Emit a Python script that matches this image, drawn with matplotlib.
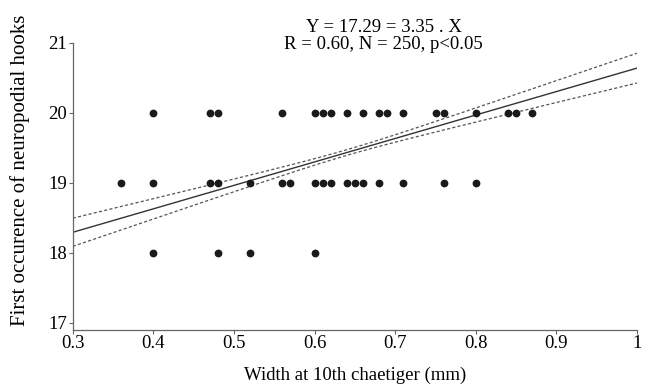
import numpy as np
import matplotlib.pyplot as plt

plt.rcParams['font.family'] = ['Liberation Serif', 'DejaVu Serif']

# observations (width at 10th chaetiger, first hook chaetiger)
x_20 = [0.40, 0.47, 0.48, 0.56, 0.60, 0.61, 0.62, 0.64, 0.66, 0.68, 0.69,
        0.71, 0.75, 0.76, 0.80, 0.84, 0.85, 0.87]
x_19 = [0.36, 0.40, 0.47, 0.48, 0.52, 0.56, 0.57, 0.60, 0.61, 0.62, 0.64,
        0.65, 0.66, 0.68, 0.71, 0.76, 0.80]
x_18 = [0.40, 0.48, 0.52, 0.60]

# regression Y = a + b X and confidence band parameters
intercept = 17.29
slope = 3.35
band_h0 = 0.04
band_k = 0.58
band_xm = 0.64

fig = plt.figure(figsize=(6.5, 3.9), dpi=100)
ax = fig.add_axes([0.112, 0.154, 0.868, 0.736])

xs = np.array(x_20 + x_19 + x_18)
ys = np.array([20] * len(x_20) + [19] * len(x_19) + [18] * len(x_18))
ax.plot(xs, ys, 'o', color='#1a1a1a', markersize=4.6, zorder=3)

xl = np.linspace(0.3, 1.0, 200)
yl = intercept + slope * xl
half = np.sqrt(band_h0 ** 2 + (band_k * (xl - band_xm)) ** 2)
ax.plot(xl, yl, color='#333333', lw=1.0)
ax.plot(xl, yl + half, color='#555555', lw=0.9, ls=(0, (2.5, 1.8)))
ax.plot(xl, yl - half, color='#555555', lw=0.9, ls=(0, (2.5, 1.8)))

ax.set_xlim(0.3, 1.0)
ax.set_ylim(16.9, 21)
ax.set_xticks([0.3, 0.4, 0.5, 0.6, 0.7, 0.8, 0.9, 1.0])
ax.set_xticklabels(['0.3', '0.4', '0.5', '0.6', '0.7', '0.8', '0.9', '1'])
ax.set_yticks([17, 18, 19, 20, 21])
for s in ['top', 'right']:
    ax.spines[s].set_visible(False)
for s in ['left', 'bottom']:
    ax.spines[s].set_color('#666666')
    ax.spines[s].set_linewidth(0.9)
ax.tick_params(direction='out', length=3, width=0.8, color='#666666',
               labelsize=13.5, pad=1)

ax.set_xlabel('Width at 10th chaetiger (mm)', fontsize=13.5, labelpad=10)
ax.set_ylabel('First occurence of neuropodial hooks', fontsize=15)
ax.yaxis.set_label_coords(-0.075, 0.555)

fig.text(0.59, 0.93, 'Y = 17.29 = 3.35 . X', ha='center', va='center', fontsize=13.5)
fig.text(0.59, 0.885, 'R = 0.60, N = 250, p<0.05', ha='center', va='center', fontsize=13.5)

fig.savefig('out.png', dpi=100)
